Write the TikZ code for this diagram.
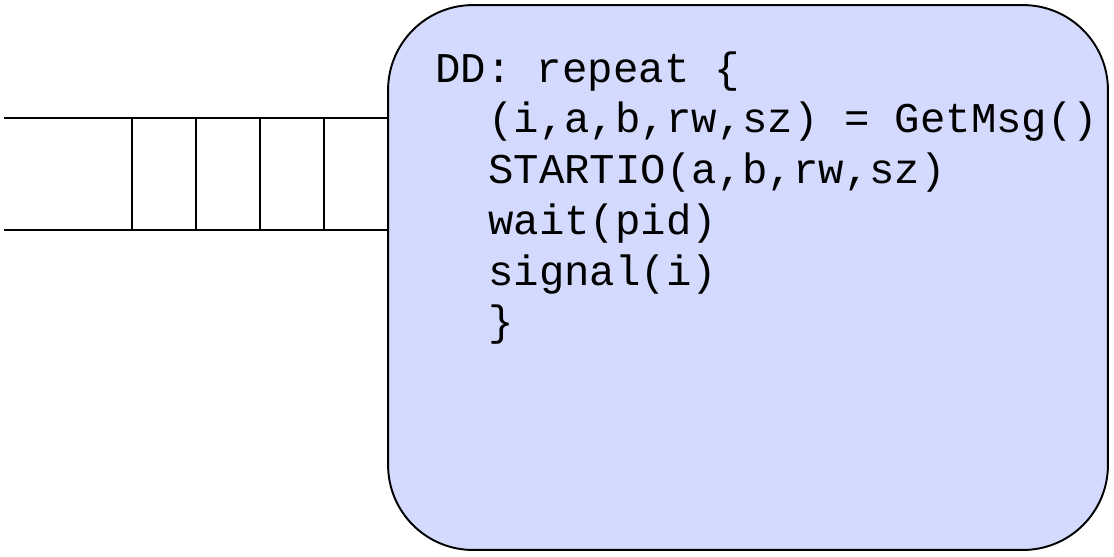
\documentclass[tikz,border=0pt]{standalone}
\usepackage{fontspec}
\setmonofont{Liberation Mono}
\usepackage{tikz}
\usetikzlibrary{positioning}

\definecolor{boxblue}{HTML}{D3DAFE}
\tikzset{
  qline/.style={line width=1.1pt},
  ddbox/.style={draw, line width=1.1pt, fill=boxblue, rounded corners=1.7cm,
    minimum width=14.4cm, minimum height=10.9cm, inner sep=0pt},
  code/.style={anchor=base west, inner sep=0pt,
    font=\ttfamily\fontsize{24.1pt}{28.4pt}\selectfont}
}

\begin{document}
\begin{tikzpicture}[x=0.02cm, y=-0.02cm]
      \useasboundingbox (0,0) rectangle (1114,556);
      % message queue
      \draw[qline] (4,118) -- (390,118);
      \draw[qline] (4,230) -- (390,230);
      \foreach \x in {132,196,260,324}
        \draw[qline] (\x,118) -- (\x,230);
      % device driver
      \node[ddbox] (dd) at (748,277.5) {};
      \node[code] (l1) at (435,82) {DD: repeat \{};
      \node[code] (l2) at (488,132) {(i,a,b,rw,sz) = GetMsg()};
      \node[code] (l3) at (488,183) {STARTIO(a,b,rw,sz)};
      \node[code] (l4) at (488,234) {wait(pid)};
      \node[code] (l5) at (488,285) {signal(i)};
      \node[code] (l6) at (488,335) {\}};
\end{tikzpicture}
\end{document}
